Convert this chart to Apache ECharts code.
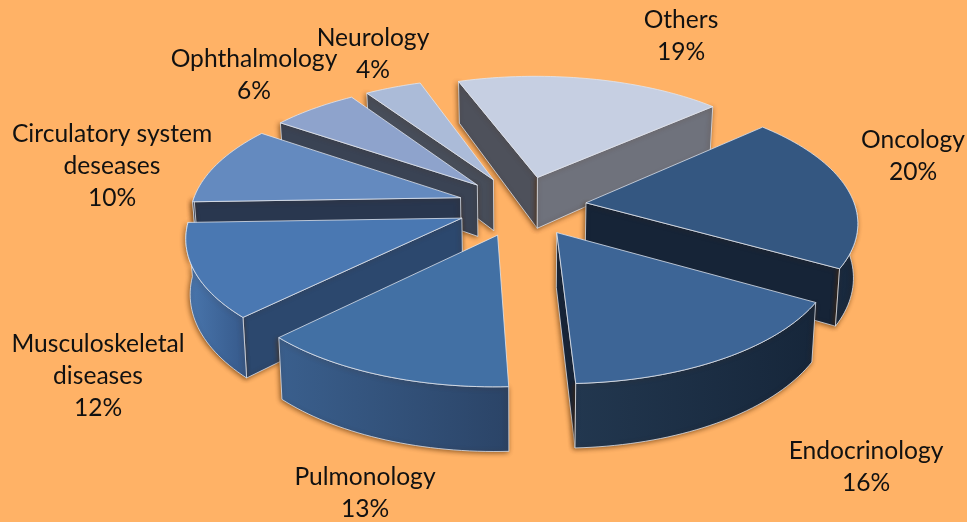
<!DOCTYPE html>
<html>
<head>
<meta charset="utf-8">
<style>html,body{margin:0;padding:0;background:#ffb266}#c{width:967px;height:522px}</style>
<script src="https://cdn.jsdelivr.net/npm/echarts@6/dist/echarts.min.js"></script>
</head>
<body>
<div id="c"></div>
<script>
// Data, clockwise from the first slice (shares, labels show them rounded)
const categories = ['Oncology', 'Endocrinology', 'Pulmonology', 'Musculoskeletal\ndiseases',
  'Circulatory system\ndeseases', 'Ophthalmology', 'Neurology', 'Others'];
const percents = [19.7, 16.1, 13.4, 11.8, 10, 6, 4, 19];

// Styles: top face, radial wall at slice start, radial wall at slice end, outer wall gradient
const topColors = ['#345781', '#3d6596', '#4270a4', '#4a78b2', '#648abf', '#8ea3cc', '#abbbd8', '#c6cfe2'];
const startWalls = ['#162437', '#14243a', '#1f3a5b', '#2c486e', '#29374f', '#3a4354', '#474d59', '#4e515b'];
const endWalls = ['#162437', '#14243a', '#1f3a5b', '#2c486e', '#29374f', '#3a4354', '#474d59', '#6f727c'];
const outerLeft = ['#1a2b40', '#22374f', '#3a5f8d', '#4a77ae', '#29374f', '#3a4354', '#474d59', '#6f727c'];
const outerRight = ['#16263a', '#16263a', '#2b4467', '#36598a', '#29374f', '#3a4354', '#474d59', '#6f727c'];

// Label anchors (layout only)
const labelCenters = [[913,156],[866,467],[365,493],[98,376],[112,166],[254,75],[373,54],[681,36]];

// Projection of the tilted, exploded pie
const START_DEG = 48.5, CX = 522, CY = 206, RX = 269, RY = 126.6, PERSP = 0.137;
const EXPLODE = 0.24, DEPTH = 53, DEPTH_PERSP = 0.18, SHRINK = 0.013;
const RAD = Math.PI / 180;

const total = percents.reduce((a, b) => a + b, 0);
let cum = START_DEG;
const spans = percents.map(p => { const a = cum; cum += p / total * 360; return [a, cum]; });

const seriesData = percents.map((p, i) => ({
  name: categories[i],
  value: [i, p],
  bis: (spans[i][0] + spans[i][1]) / 2
})).sort((a, b) => Math.cos(b.bis * RAD) - Math.cos(a.bis * RAD));

function pt(bis, deg, r, h) {
  const U = EXPLODE * Math.sin(bis * RAD) + Math.sin(deg * RAD) * r;
  const V = -EXPLODE * Math.cos(bis * RAD) - Math.cos(deg * RAD) * r;
  const s = 1 + PERSP * V;
  return [
    CX + RX * U * s * (1 - h * SHRINK),
    CY + RY * V * s + h * DEPTH * (1 + DEPTH_PERSP * V)
  ];
}
function arc(bis, a0, a1, h) {
  const n = Math.max(2, Math.ceil(Math.abs(a1 - a0) / 1.5)), out = [];
  for (let k = 0; k <= n; k++) out.push(pt(bis, a0 + (a1 - a0) * k / n, 1, h));
  return out;
}
const EDGE = 'rgba(226,231,240,0.85)';
const SHADOW = { shadowBlur: 5, shadowColor: 'rgba(80,40,0,0.65)', shadowOffsetX: -1, shadowOffsetY: 1 };

function renderSlice(params, api) {
  const i = api.value(0);
  const a0 = spans[i][0], a1 = spans[i][1], bis = (a0 + a1) / 2;
  const children = [];
  const base = params.dataIndex * 10;
  const poly = (points, fill, extra, z) => children.push({
    type: 'polygon', z2: base + z, shape: { points },
    style: Object.assign({ fill, stroke: EDGE, lineWidth: 0.9, lineJoin: 'round' }, extra || {})
  });
  const facing = d => -Math.cos(d * RAD) > 0;
  // radial walls that face the viewer
  [[a0, a0 - 90, startWalls[i]], [a1, a1 + 90, endWalls[i]]].forEach(([d, n, col]) => {
    if (facing(n)) poly([pt(bis, d, 0, 0), pt(bis, d, 1, 0), pt(bis, d, 1, 1), pt(bis, d, 0, 1)], col, SHADOW, 1);
  });
  // outer wall, only the forward part of the rim
  const lo = Math.max(a0, 90), hi = Math.min(a1, 270);
  if (hi > lo) {
    poly(arc(bis, lo, hi, 0).concat(arc(bis, hi, lo, 1)),
      new echarts.graphic.LinearGradient(0, 0, 1, 0, [
        { offset: 0, color: outerLeft[i] },
        { offset: 1, color: outerRight[i] }
      ]), SHADOW, 2);
  }
  // top face
  poly([pt(bis, a0, 0, 0)].concat(arc(bis, a0, a1, 0)), topColors[i], null, 3);
  return { type: 'group', children };
}

function renderLabel(params, api) {
  const i = api.value(0);
  return {
    type: 'text', z2: 500,
    style: {
      text: categories[i] + '\n' + Math.round(api.value(1)) + '%',
      x: labelCenters[i][0], y: labelCenters[i][1],
      align: 'center', verticalAlign: 'middle',
      fill: '#111', font: '24.6px Lato', lineHeight: 32
    }
  };
}

const chart = echarts.init(document.getElementById('c'), null, { renderer: 'canvas' });
chart.setOption({
  animation: false,
  backgroundColor: '#ffb266',
  series: [
    { type: 'custom', coordinateSystem: 'none', silent: true, renderItem: renderSlice, data: seriesData, clip: false },
    { type: 'custom', coordinateSystem: 'none', silent: true, renderItem: renderLabel, data: percents.map((p, i) => [i, p]), z: 5 }
  ]
});
</script>
</body>
</html>
